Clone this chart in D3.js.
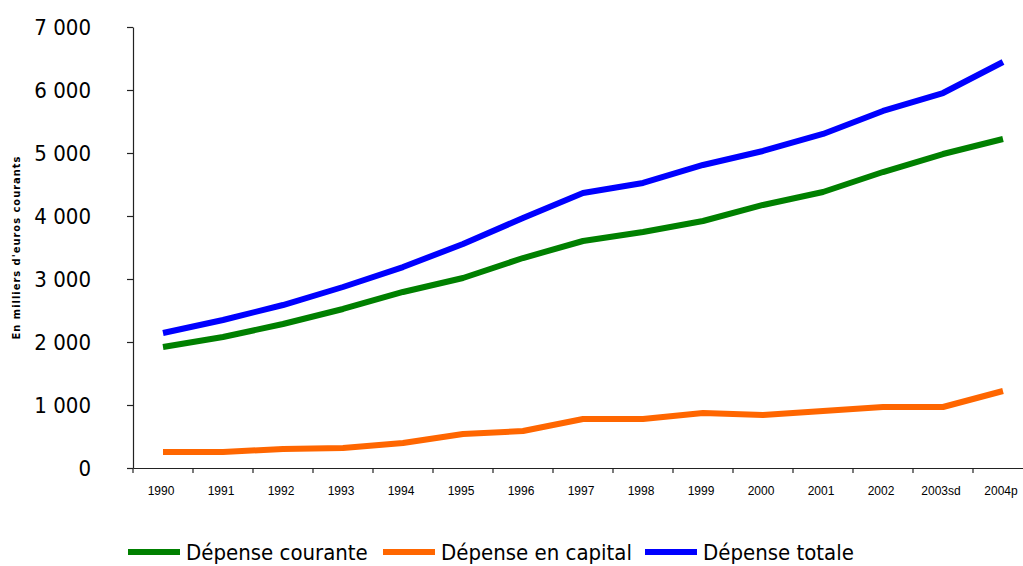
<!DOCTYPE html>
<html>
<head>
<meta charset="utf-8">
<script src="https://cdn.jsdelivr.net/npm/d3@7"></script>
<style>
  body { margin: 0; background: #fff; }
  svg { display: block; }
</style>
</head>
<body>
<div id="chart-container"></div>
<script>
// Data (millions of euros)
const years = ["1990", "1991", "1992", "1993", "1994", "1995", "1996", "1997",
               "1998", "1999", "2000", "2001", "2002", "2003sd", "2004p"];
const courante = [1921, 2079, 2286, 2524, 2794, 3016, 3333, 3603, 3746, 3921, 4175, 4381, 4698, 4984, 5222];
const capital  = [254, 254, 302, 317, 397, 540, 587, 778, 778, 873, 841, 905, 968, 968, 1222];
const totale   = [2143, 2349, 2587, 2873, 3190, 3556, 3968, 4365, 4524, 4810, 5032, 5302, 5667, 5952, 6444];
const yTicks = [0, 1000, 2000, 3000, 4000, 5000, 6000, 7000];

const series = [
  { name: "Dépense courante", values: courante, color: "#008000" },
  { name: "Dépense en capital", values: capital, color: "#ff6600" },
  { name: "Dépense totale", values: totale, color: "#0000ff" }
];

const width = 1023;
const height = 566;
const marginTop = 27;
const marginLeft = 133;
const plotBottom = 468;

const x = d3.scaleBand()
    .domain(years)
    .range([marginLeft, marginLeft + 60 * years.length]);

const y = d3.scaleLinear()
    .domain([0, 7000])
    .range([plotBottom, marginTop]);

const fmt = v => d3.format(",")(v).replace(/,/g, " ");

const svg = d3.create("svg")
    .attr("width", width)
    .attr("height", height);

// x-axis
const gx = svg.append("g")
    .attr("transform", `translate(0,${plotBottom})`)
    .call(d3.axisBottom(x).tickSizeInner(0).tickSizeOuter(0).tickPadding(18));
gx.select(".domain").attr("stroke", "#222").attr("stroke-width", 1.2);
gx.selectAll(".tick text")
    .attr("font-family", "Liberation Sans, Arial, sans-serif")
    .attr("font-size", 12)
    .attr("fill", "#000")
    .attr("dx", -2);
// tick marks between categories
svg.append("g")
    .selectAll("line")
    .data(years)
    .join("line")
    .attr("x1", d => x(d))
    .attr("x2", d => x(d))
    .attr("y1", plotBottom)
    .attr("y2", plotBottom + 5)
    .attr("stroke", "#222")
    .attr("stroke-width", 1.2);

// y-axis
const gy = svg.append("g")
    .attr("transform", `translate(${marginLeft},0)`)
    .call(d3.axisLeft(y).tickValues(yTicks).tickFormat(fmt).tickSizeInner(6).tickSizeOuter(0).tickPadding(36));
gy.select(".domain").attr("stroke", "#222").attr("stroke-width", 1.2);
gy.selectAll(".tick line").attr("stroke", "#222").attr("stroke-width", 1.2);
gy.selectAll(".tick text")
    .attr("font-family", "DejaVu Sans Condensed, DejaVu Sans, sans-serif")
    .attr("font-size", 22)
    .attr("fill", "#000");

// y-axis title
svg.append("text")
    .attr("transform", `translate(20,${(marginTop + plotBottom) / 2}) rotate(-90)`)
    .attr("text-anchor", "middle")
    .attr("font-family", "DejaVu Sans Condensed, DejaVu Sans, sans-serif")
    .attr("font-size", 11)
    .attr("font-weight", "bold")
    .attr("letter-spacing", 1)
    .attr("fill", "#000")
    .text("En milliers d'euros courants");

// lines
const line = d3.line()
    .x((d, i) => x(years[i]) + x.bandwidth() / 2)
    .y(d => y(d));

svg.append("g")
    .selectAll("path")
    .data(series)
    .join("path")
    .attr("fill", "none")
    .attr("stroke", d => d.color)
    .attr("stroke-width", 6)
    .attr("stroke-linejoin", "round")
    .attr("d", d => line(d.values));

// legend
const legendX = [128, 383, 645];
const legend = svg.append("g")
    .selectAll("g")
    .data(series)
    .join("g")
    .attr("transform", (d, i) => `translate(${legendX[i]},552)`);
legend.append("line")
    .attr("x1", 0).attr("x2", 52)
    .attr("stroke", d => d.color)
    .attr("stroke-width", 6);
legend.append("text")
    .attr("x", 58)
    .attr("dy", "0.35em")
    .attr("font-family", "DejaVu Sans Condensed, DejaVu Sans, sans-serif")
    .attr("font-size", 22)
    .attr("fill", "#000")
    .text(d => d.name);

d3.select("#chart-container").append(() => svg.node());
</script>
</body>
</html>
